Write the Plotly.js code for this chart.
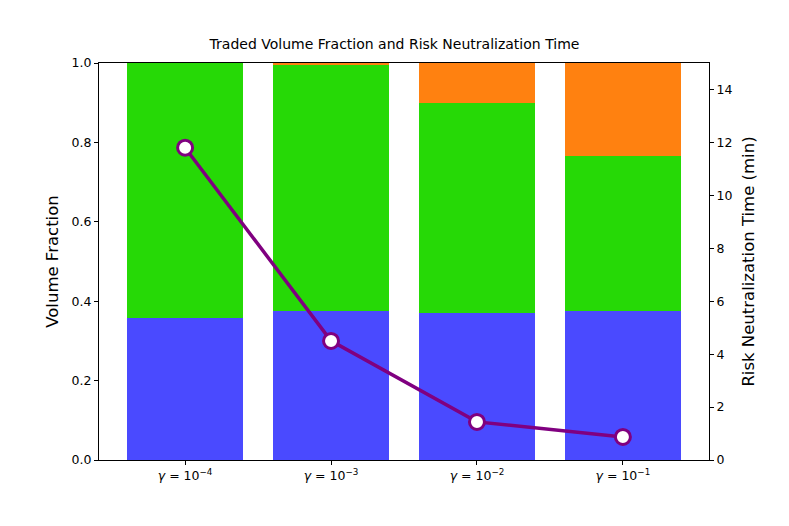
<!DOCTYPE html>
<html>
<head>
<meta charset="utf-8">
<script src="https://cdn.plot.ly/plotly-3.0.1.min.js"></script>
<style>
  body { margin: 0; background: #fff; }
  #chart { width: 789px; height: 526px; }
</style>
</head>
<body>
<div id="chart"></div>
<script>
// categories (gamma values)
var gammaLabels = ["<i>γ</i> = 10<sup>−4</sup>", "<i>γ</i> = 10<sup>−3</sup>", "<i>γ</i> = 10<sup>−2</sup>", "<i>γ</i> = 10<sup>−1</sup>"];
var xPos = [0, 1, 2, 3];

// stacked volume fractions
var blueFrac = [0.358, 0.375, 0.370, 0.375];
var greenFrac = [0.642, 0.620, 0.529, 0.391];
var orangeFrac = [0.000, 0.005, 0.101, 0.234];

// risk neutralization time (min)
var riskTime = [11.8, 4.5, 1.44, 0.87];

var traceBlue = {
    x: xPos, y: blueFrac, type: "bar", width: 0.8,
    marker: {color: "#4a4aff"}, hoverinfo: "y"
};
var traceGreen = {
    x: xPos, y: greenFrac, type: "bar", width: 0.8,
    marker: {color: "#26d906"}, hoverinfo: "y"
};
var traceOrange = {
    x: xPos, y: orangeFrac, type: "bar", width: 0.8,
    marker: {color: "#ff8110"}, hoverinfo: "y"
};
var traceLine = {
    x: xPos, y: riskTime, type: "scatter", mode: "lines+markers",
    yaxis: "y2",
    line: {color: "#800080", width: 3.5},
    marker: {size: 15, color: "#ffffff", line: {color: "#800080", width: 3}}
};

var data = [traceBlue, traceGreen, traceOrange, traceLine];

var tickFont = {family: "DejaVu Sans", size: 12.5, color: "#000"};
var layout = {
    width: 789, height: 526,
    margin: {l: 99, r: 80, t: 63, b: 66},
    barmode: "stack",
    showlegend: false,
    paper_bgcolor: "#fff", plot_bgcolor: "#fff",
    font: {family: "DejaVu Sans", color: "#000"},
    title: {text: "Traded Volume Fraction and Risk Neutralization Time", font: {size: 14}, x: 0.5, xanchor: "center", y: 0.925},
    xaxis: {
        range: [-0.59, 3.59], tickvals: xPos, ticktext: gammaLabels,
        showline: true, mirror: true, linecolor: "#000", linewidth: 1,
        ticks: "outside", ticklen: 4, tickcolor: "#000",
        showgrid: false, zeroline: false, tickfont: tickFont
    },
    yaxis: {
        title: {text: "Volume Fraction", font: {size: 16.5}, standoff: 8},
        range: [0, 1], dtick: 0.2, tickformat: ".1f",
        showline: true, linecolor: "#000", linewidth: 1,
        ticks: "outside", ticklen: 4, tickcolor: "#000",
        showgrid: false, zeroline: false, tickfont: tickFont
    },
    yaxis2: {
        title: {text: "Risk Neutralization Time (min)", font: {size: 16.5}, standoff: 10},
        overlaying: "y", side: "right",
        range: [0, 15], dtick: 2,
        showline: true, linecolor: "#000", linewidth: 1,
        ticks: "outside", ticklen: 4, tickcolor: "#000",
        showgrid: false, zeroline: false, tickfont: tickFont
    }
};

Plotly.newPlot("chart", data, layout, {displayModeBar: false});
</script>
</body>
</html>
